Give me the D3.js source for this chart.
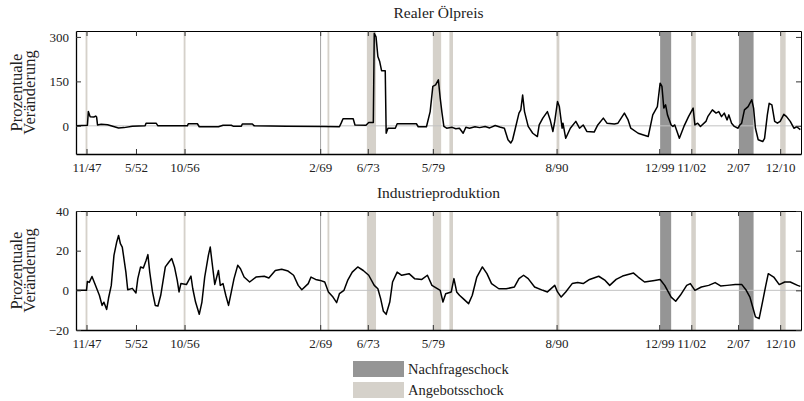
<!DOCTYPE html>
<html>
<head>
<meta charset="utf-8">
<script src="https://cdn.jsdelivr.net/npm/d3@7"></script>
<style>
  body { margin: 0; background: #fff; }
  svg text { font-family: "Liberation Serif", "Times New Roman", serif; fill: #222; }
</style>
</head>
<body>
<div id="chart"></div>
<script>
// x axis ticks (month/year of the shock dates)
const tickMonths = ['1947-11', '1952-05', '1956-10', '1969-02', '1973-06', '1979-05', '1990-08', '1999-12', '2002-11', '2007-02', '2010-12'];
const tickLabels = ['11/47', '5/52', '10/56', '2/69', '6/73', '5/79', '8/90', '12/99', '11/02', '2/07', '12/10'];

// shock periods [start, end)
const supplyShocks = [['1947-10', '1947-12'], ['1956-09', '1956-11'], ['1969-10', '1969-12'], ['1973-05', '1974-03'],
  ['1979-05', '1980-02'], ['1980-11', '1981-03'], ['1990-08', '1990-11'], ['2002-11', '2003-04'], ['2010-12', '2011-06']];
const demandShocks = [['1969-02', '1969-03'], ['2000-01', '2001-01'], ['2007-03', '2008-07']];

// Realer Ölpreis, prozentuale Veränderung
const oilMonths = ['1946-11', '1947-12', '1948-01', '1948-03', '1948-07', '1948-09', '1948-10', '1948-11', '1949-03', '1949-10',
  '1950-10', '1951-04', '1952-01', '1953-03', '1953-04', '1954-03', '1954-05', '1957-01', '1957-02', '1957-12',
  '1958-02', '1959-11', '1960-04', '1961-01', '1961-03', '1961-12', '1962-01', '1962-12', '1963-02', '1966-01',
  '1969-06', '1970-11', '1971-01', '1971-03', '1972-02', '1972-04', '1973-04', '1973-07', '1973-12', '1974-01',
  '1974-03', '1974-05', '1974-07', '1974-09', '1975-01', '1975-02', '1975-04', '1975-12', '1976-02', '1977-11',
  '1978-01', '1978-10', '1979-02', '1979-05', '1979-08', '1979-11', '1980-01', '1980-03', '1980-05', '1980-08',
  '1981-02', '1981-06', '1981-10', '1982-02', '1982-05', '1982-09', '1983-03', '1983-08', '1984-02', '1984-07',
  '1985-01', '1985-06', '1985-11', '1986-03', '1986-06', '1986-08', '1986-11', '1987-03', '1987-05', '1987-07',
  '1987-09', '1988-01', '1988-06', '1988-11', '1989-01', '1989-05', '1989-10', '1990-01', '1990-04', '1990-06',
  '1990-09', '1990-11', '1991-02', '1991-03', '1991-06', '1991-11', '1992-05', '1992-09', '1993-01', '1993-05',
  '1994-01', '1994-05', '1994-11', '1995-03', '1995-11', '1996-03', '1996-10', '1997-02', '1997-05', '1998-01',
  '1998-06', '1998-12', '1999-05', '1999-10', '2000-01', '2000-03', '2000-05', '2000-07', '2000-09', '2001-01',
  '2001-03', '2001-05', '2001-10', '2002-03', '2002-08', '2003-01', '2003-03', '2003-06', '2003-09', '2004-03',
  '2004-05', '2004-10', '2005-02', '2005-05', '2005-08', '2005-11', '2006-02', '2006-04', '2006-07', '2006-10',
  '2007-02', '2007-04', '2007-06', '2007-09', '2008-01', '2008-05', '2008-07', '2008-09', '2008-12', '2009-05',
  '2009-07', '2009-10', '2009-12', '2010-03', '2010-06', '2010-09', '2010-12', '2011-04', '2011-07', '2011-11',
  '2012-03', '2012-06', '2012-10'];
const oilChange = [0, 2, 48, 31, 30, 33, 30, 3, 5, 4,
  -7, -6, -1, 0, 9, 9, 0, 0, 7, 7,
  -3, -3, 2, 2, -1, -1, 6, 6, 0, -1,
  -2, -3, 10, 24, 24, 3, 2, 11, 11, 312,
  300, 234, 217, 186, 186, -25, -8, -8, 7, 7,
  -3, -3, 48, 133, 138, 155, 93, 43, -2, -8,
  -5, -10, -8, -25, -5, -8, -3, -6, -2, -7,
  1, -4, -8, -47, -58, -47, -8, 43, 54, 104,
  48, -2, -25, -36, 3, 26, 48, 20, -19, 15,
  82, 65, -8, 9, -42, -8, 15, -8, 3, -19,
  -21, 3, 26, 9, 6, 9, 43, 20, -8, -25,
  -30, -36, 37, 65, 144, 133, 60, 71, 37, 3,
  -2, 3, -42, -2, 31, 60, 3, 9, -2, 15,
  31, 54, 43, 48, 31, 43, 20, 37, 9, -2,
  -8, 3, 9, 54, 65, 88, 60, -8, -47, -53,
  -42, 37, 76, 71, 15, 9, 15, 39, 31, 15,
  -8, -3, -13];

// Industrieproduktion, prozentuale Veränderung
const ipMonths = ['1946-11', '1947-11', '1947-12', '1948-02', '1948-05', '1948-08', '1949-01', '1949-04', '1949-06', '1949-09',
  '1949-11', '1950-02', '1950-05', '1950-08', '1950-10', '1950-12', '1951-02', '1951-06', '1951-08', '1952-01',
  '1952-05', '1952-07', '1952-10', '1953-01', '1953-04', '1953-06', '1953-08', '1953-11', '1954-02', '1954-05',
  '1954-08', '1955-01', '1955-05', '1955-08', '1955-11', '1956-02', '1956-04', '1956-06', '1956-12', '1957-05',
  '1957-07', '1957-10', '1958-02', '1958-05', '1958-08', '1958-12', '1959-02', '1959-04', '1959-07', '1959-11',
  '1960-01', '1960-04', '1960-07', '1960-10', '1961-01', '1961-04', '1961-08', '1961-11', '1962-03', '1962-09',
  '1963-04', '1964-01', '1964-06', '1965-01', '1965-08', '1966-03', '1966-09', '1967-02', '1967-06', '1968-01',
  '1968-04', '1968-09', '1969-02', '1969-07', '1969-11', '1970-04', '1970-08', '1970-11', '1971-04', '1971-08',
  '1972-01', '1972-07', '1973-01', '1973-07', '1974-01', '1974-05', '1974-08', '1974-11', '1975-02', '1975-06',
  '1975-09', '1976-02', '1976-07', '1977-03', '1977-09', '1978-05', '1978-11', '1979-04', '1980-01', '1980-04',
  '1980-07', '1981-01', '1981-04', '1981-07', '1981-10', '1982-02', '1982-08', '1982-12', '1983-05', '1983-11',
  '1984-04', '1984-09', '1985-05', '1986-01', '1986-10', '1987-03', '1987-08', '1988-01', '1988-08', '1989-05',
  '1989-10', '1990-06', '1990-09', '1991-01', '1991-06', '1992-01', '1992-07', '1993-01', '1993-08', '1994-06',
  '1995-01', '1995-06', '1996-01', '1996-08', '1997-08', '1998-01', '1998-08', '1999-07', '2000-01', '2000-06',
  '2001-01', '2001-06', '2001-11', '2002-06', '2002-10', '2003-03', '2003-10', '2004-06', '2005-01', '2005-07',
  '2006-02', '2006-11', '2007-06', '2007-11', '2008-03', '2008-06', '2008-09', '2009-01', '2009-04', '2009-08',
  '2009-11', '2010-05', '2010-11', '2011-05', '2011-11', '2012-07', '2012-10'];
const ipChange = [0, 0, 4.5, 4, 7, 3.4, -2.5, -7.6, -6, -9.6,
  -4, 2.5, 17.6, 24.4, 27.7, 23.5, 21.8, 9.2, 0.3, 1,
  -1.3, 5.9, 11.8, 11.3, 15, 18, 9.2, -0.8, -7.6, -7.9,
  -2.5, 11.8, 14.3, 16, 11.8, 5, -0.8, 3.4, 2.9, 7.2,
  0.8, -5.9, -12.1, -5.9, 6.7, 17.6, 21.8, 14.3, 3, 10,
  2.5, 3.4, -2.5, -7.6, -0.8, 5.9, 12.6, 10.9, 6.7, 4.2,
  6.7, 7.1, 6.2, 10, 10.6, 9.7, 7.6, 2.5, 0.3, 3.4,
  6.7, 5.5, 5, 4.2, -0.8, -3.4, -6.2, -1.7, 0, 5,
  9.2, 11.8, 10, 7.6, 2.5, 0.8, -4.2, -10.6, -12.1, -5.9,
  4.2, 9.2, 7.6, 8.4, 5.9, 5.5, 7.6, 2.5, 0, -5.9,
  -1.7, -0.8, 5.9, -0.8, -2.5, -4.2, -6.7, -2.5, 6.7, 11.8,
  8.4, 3.4, 0.8, 0.8, 1.7, 5.9, 7.6, 5.9, 1.7, 0,
  -0.8, 2.5, -0.8, -3.4, -0.8, 3.4, 3.9, 3.4, 5.5, 7.1,
  5, 2.5, 5.5, 7.2, 8.7, 6.7, 4.2, 5, 5.5, 2.5,
  -3.4, -5.5, -2.5, 2.5, 3.4, 0, 1.7, 2.5, 3.9, 2.2,
  2.5, 2.9, 3, 0, -3.4, -8.4, -13.4, -14.3, -7.6, 1.7,
  8.4, 6.7, 2.9, 4.2, 4.2, 2.5, 2];

const oilTicks = [0, 150, 300];
const ipTicks = [-20, 0, 20, 40];

const parseMonth = d3.timeParse('%Y-%m');
const fontFamily = '"Liberation Serif", "Times New Roman", serif';
const darkGrey = '#959595';
const lightGrey = '#d5d1ca';

const svg = d3.select('#chart').append('svg')
  .attr('width', 804)
  .attr('height', 401);

const x = d3.scaleTime()
  .domain([new Date(1946, 10, 17), new Date(2012, 9, 23)])
  .range([76, 801]);

function drawPanel(p) {
  const y = d3.scaleLinear().domain(p.domain).range([p.bottom, p.top]);
  const g = svg.append('g');

  g.append('clipPath').attr('id', p.id)
    .append('rect')
    .attr('x', 76).attr('y', p.top)
    .attr('width', 801 - 76).attr('height', p.bottom - p.top);

  const plot = g.append('g').attr('clip-path', `url(#${p.id})`);

  const shockRect = (sel, data, color) => sel.selectAll(null)
    .data(data)
    .enter().append('rect')
    .attr('x', d => x(parseMonth(d[0])))
    .attr('width', d => x(parseMonth(d[1])) - x(parseMonth(d[0])))
    .attr('y', p.top)
    .attr('height', p.bottom - p.top)
    .attr('fill', color);
  shockRect(plot, supplyShocks, lightGrey);
  shockRect(plot, demandShocks, darkGrey);

  plot.append('line')
    .attr('x1', 76).attr('x2', 801)
    .attr('y1', y(0)).attr('y2', y(0))
    .attr('stroke', '#c2c2c2')
    .attr('stroke-width', 1);

  const line = d3.line()
    .x((d, i) => x(parseMonth(p.months[i])))
    .y(d => y(d));

  plot.append('path')
    .datum(p.values)
    .attr('d', line)
    .attr('fill', 'none')
    .attr('stroke', '#000')
    .attr('stroke-width', 1.5)
    .attr('stroke-linejoin', 'round');

  const tickDates = tickMonths.map(parseMonth);

  g.append('g')
    .attr('transform', `translate(0,${p.bottom})`)
    .call(d3.axisBottom(x).tickValues(tickDates).tickSizeInner(-5).tickSizeOuter(0).tickPadding(9)
      .tickFormat((d, i) => tickLabels[i]))
    .call(a => a.select('.domain').attr('stroke-width', 1.6));

  g.append('g')
    .attr('transform', `translate(0,${p.top})`)
    .call(d3.axisTop(x).tickValues(tickDates).tickSizeInner(-5).tickSizeOuter(0).tickFormat(''));

  g.append('g')
    .attr('transform', 'translate(76,0)')
    .call(d3.axisLeft(y).tickValues(p.ticks).tickSizeInner(-5).tickSizeOuter(0).tickPadding(7))
    .call(a => a.select('.domain').attr('stroke-width', 1.3));

  g.append('g')
    .attr('transform', 'translate(801,0)')
    .call(d3.axisRight(y).tickValues(p.ticks).tickSizeInner(-5).tickSizeOuter(0).tickFormat(''));

  g.selectAll('.tick line').attr('stroke', '#333');
  g.selectAll('.tick text').attr('font-family', fontFamily).attr('font-size', '13px').attr('fill', '#222');

  g.append('text')
    .attr('x', 438.5)
    .attr('y', p.titleY)
    .attr('text-anchor', 'middle')
    .attr('font-size', '15.5px')
    .text(p.title);

  const cy = (p.top + p.bottom) / 2;
  const label = g.append('text')
    .attr('transform', `translate(22,${cy}) rotate(-90)`)
    .attr('text-anchor', 'middle')
    .attr('font-size', '16.5px');
  label.append('tspan').attr('x', 0).attr('y', 0).text('Prozentuale');
  label.append('tspan').attr('x', 0).attr('y', 13).text('Veränderung');
}

drawPanel({ id: 'clipOil', top: 31, bottom: 154, domain: [-95, 320], ticks: oilTicks,
  months: oilMonths, values: oilChange, title: 'Realer Ölpreis', titleY: 18 });
drawPanel({ id: 'clipIp', top: 211, bottom: 330, domain: [-20, 40], ticks: ipTicks,
  months: ipMonths, values: ipChange, title: 'Industrieproduktion', titleY: 198 });

// legend
const legendItems = ['Nachfrageschock', 'Angebotsschock'];
const legendColors = [darkGrey, lightGrey];
const legend = svg.append('g').attr('transform', 'translate(353,361)');
legend.selectAll('rect')
  .data(legendItems)
  .enter().append('rect')
  .attr('x', 0)
  .attr('y', (d, i) => i * 21)
  .attr('width', 51)
  .attr('height', 16)
  .attr('fill', (d, i) => legendColors[i]);
legend.selectAll('text')
  .data(legendItems)
  .enter().append('text')
  .attr('x', 55)
  .attr('y', (d, i) => i * 21 + 13)
  .attr('font-size', '14.5px')
  .text(d => d);
</script>
</body>
</html>
